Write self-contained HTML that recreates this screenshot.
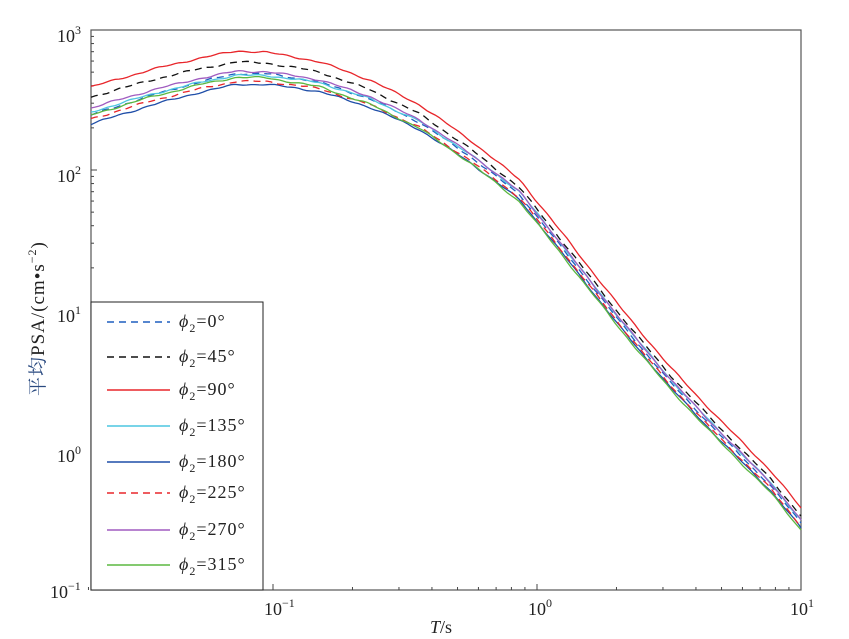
<!DOCTYPE html>
<html><head><meta charset="utf-8"><style>
body{margin:0;background:#fff;}
svg{display:block;}
text{font-family:"Liberation Serif","Noto Serif CJK SC",serif;fill:#222;}
</style></head><body>
<svg id="s" width="849" height="639" xmlns="http://www.w3.org/2000/svg">
<rect x="91" y="30" width="710" height="560" fill="#fff" stroke="#555" stroke-width="1.2"/>
<g id="ticks" stroke="#444" stroke-width="1"></g>
<g id="curves" fill="none" stroke-width="1.3"></g>
<g font-size="18">
<text x="57" y="42">10<tspan font-size="12" dy="-8">3</tspan></text>
<text x="57" y="182">10<tspan font-size="12" dy="-8">2</tspan></text>
<text x="57" y="322">10<tspan font-size="12" dy="-8">1</tspan></text>
<text x="57" y="462">10<tspan font-size="12" dy="-8">0</tspan></text>
<text x="50" y="598">10<tspan font-size="12" dy="-8">−1</tspan></text>
<text x="264" y="615">10<tspan font-size="12" dy="-8">−1</tspan></text>
<text x="528" y="615">10<tspan font-size="12" dy="-8">0</tspan></text>
<text x="790" y="615">10<tspan font-size="12" dy="-8">1</tspan></text>
<text x="430" y="633"><tspan font-style="italic">T</tspan>/s</text>
<text transform="translate(44,396) rotate(-90)" font-size="19" letter-spacing="1"><tspan fill="#2a4a80">平均</tspan>PSA/(cm•s<tspan font-size="12" dy="-8">−2</tspan><tspan dy="8">)</tspan></text>
</g>
<rect x="91" y="302" width="172" height="288" fill="#fff" stroke="#222" stroke-width="1"/>
<g id="leg" font-size="18"></g>
</svg>
<script>
var NS="http://www.w3.org/2000/svg";
function el(t,a,p){var e=document.createElementNS(NS,t);for(var k in a)e.setAttribute(k,a[k]);p.appendChild(e);return e;}
var tk=document.getElementById("ticks");
function X(v){return 537+264*Math.log10(v);}
function Y(v){return 450-140*Math.log10(v);}
[0.01,0.1,1].forEach(function(d){for(var m=1;m<10;m++){var v=d*m;if(v<0.02||v>10)continue;var x=X(v);el("line",{x1:x,x2:x,y1:590,y2:m==1?584:587},tk);}});
[0.1,1,10,100].forEach(function(d){for(var m=1;m<10;m++){var v=d*m;var y=Y(v);el("line",{x1:91,x2:m==1?97:94,y1:y,y2:y},tk);}});
var ref=[[91,87],[150,70],[200,58],[237,51],[265,52],[300,58],[320,62],[370,80],[420,105],[470,140],[520,180],[570,243],[620,307],[670,367],[720,420],[770,470],[801,508]];
function refY(x){for(var i=0;i<ref.length-1;i++){if(x<=ref[i+1][0]){var t=(x-ref[i][0])/(ref[i+1][0]-ref[i][0]);return ref[i][1]+t*(ref[i+1][1]-ref[i][1]);}}return ref[ref.length-1][1];}
var series=[
 ["#1f5fbf",true,28,22,15,"0°"],
 ["#111",true,10,11,8,"45°"],
 ["#e8262b",false,0,0,0,"90°"],
 ["#4cc6e0",false,25,24,12,"135°"],
 ["#1f4ea8",false,37,33,20,"180°"],
 ["#e8262b",true,32,30,18,"225°"],
 ["#a05cc0",false,21,20,12,"270°"],
 ["#5cb840",false,28,26,22,"315°"]];
var cg=document.getElementById("curves");
series.forEach(function(s,si){
 var d="";
 for(var x=91;x<=801;x+=4){
  var off;
  if(x<250)off=s[2]+(s[3]-s[2])*(x-91)/159;
  else if(x<520)off=s[3]+(s[4]-s[3])*(x-250)/270;
  else off=s[4];
  var n=Math.sin(x*0.29+si*1.7)*0.5+Math.sin(x*0.11+si*2.9)*0.6;
  var y=refY(x)+off+n;
  d+=(x==91?"M":"L")+x+","+y.toFixed(1);
 }
 d+="L801,"+(refY(801)+s[4]).toFixed(1);
 var a={d:d,stroke:s[0]};
 if(s[1])a["stroke-dasharray"]="7,5";
 el("path",a,cg);
});
var lg=document.getElementById("leg");
var ys=[322,357,390,426,462,493,530,565];
series.forEach(function(s,i){
 var a={x1:107,x2:170,y1:ys[i],y2:ys[i],stroke:s[0],"stroke-width":1.4};
 if(s[1])a["stroke-dasharray"]="7,5";
 el("line",a,lg);
 var t=el("text",{x:179,y:ys[i]+5,"letter-spacing":"1"},lg);
 t.innerHTML='<tspan font-style="italic">ϕ</tspan><tspan font-size="12" dy="5">2</tspan><tspan dy="-5">=</tspan>'+s[5];
});
</script>
</body></html>
